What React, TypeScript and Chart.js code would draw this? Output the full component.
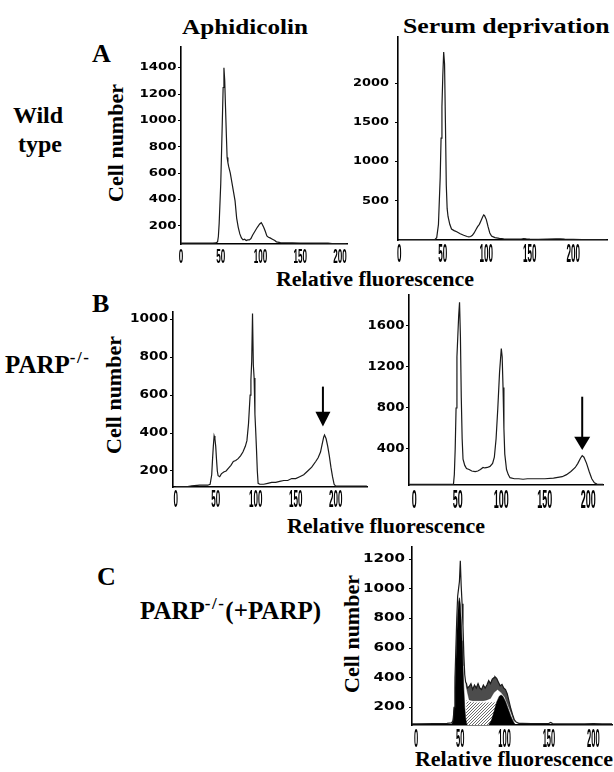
import React, { useEffect, useRef } from "react";
import { Chart, registerables } from "chart.js";
Chart.register(...registerables);

// ---------- Data ----------
const xTicks = [0, 50, 100, 150, 200];

// A: wild type, aphidicolin
const aAphX = [0, 20, 40, 44, 46, 47, 48, 50, 52, 53, 54, 55, 56, 57, 58, 59, 60, 62, 64, 66, 68, 70, 72, 74, 76, 78, 80, 82, 84, 86, 88, 90, 93, 96, 99, 101, 102, 104, 106, 108, 110, 112, 115, 118, 120, 125, 130, 140, 150, 160, 170, 180, 185, 190, 208];
const aAphY = [70, 70, 70, 72, 80, 120, 220, 520, 1000, 1250, 1400, 1300, 1100, 900, 720, 680, 650, 600, 530, 460, 390, 260, 190, 140, 110, 95, 100, 90, 95, 95, 105, 130, 160, 190, 215, 225, 215, 190, 160, 125, 115, 110, 100, 90, 80, 74, 73, 72, 71, 71, 70, 70, 70, 66, 66];
const aAphYTicks = [200, 400, 600, 800, 1000, 1200, 1400];

// A: wild type, serum deprivation
const aSerX = [0, 20, 38, 41, 43, 45, 47, 48, 49, 50, 51, 52, 53, 54, 55, 56, 58, 60, 63, 66, 70, 74, 78, 80, 82, 84, 86, 88, 90, 92, 94, 96, 97, 98, 100, 102, 104, 106, 108, 110, 115, 120, 130, 140, 143, 146, 150, 160, 170, 180, 185, 190, 200, 210, 225, 238];
const aSerY = [5, 5, 5, 8, 30, 200, 800, 1300, 1700, 2100, 2400, 2250, 1500, 700, 400, 300, 200, 140, 120, 105, 80, 60, 45, 40, 45, 60, 90, 130, 170, 200, 250, 300, 320, 310, 260, 170, 90, 50, 40, 30, 20, 15, 12, 12, 18, 14, 10, 8, 12, 14, 16, 12, 8, 6, 6, 6];
const aSerYTicks = [500, 1000, 1500, 2000];

// B: PARP-/-, aphidicolin
const bAphX = [0, 15, 20, 30, 40, 43, 45, 46, 47, 48, 49, 50, 51, 52, 53, 55, 57, 60, 63, 66, 69, 72, 75, 78, 81, 84, 87, 89, 91, 93, 94, 95, 96, 97, 98, 99, 100, 101, 102, 103, 105, 110, 115, 120, 125, 130, 135, 140, 145, 150, 155, 160, 165, 170, 175, 178, 181, 183, 185, 186, 188, 190, 192, 194, 196, 198, 200, 210, 220, 239];
const bAphY = [118, 118, 122, 125, 125, 130, 180, 260, 330, 385, 370, 330, 260, 200, 175, 170, 185, 195, 200, 215, 230, 250, 255, 265, 280, 300, 330, 360, 450, 600, 680, 780, 1030, 760, 690, 500, 410, 310, 200, 135, 130, 130, 135, 140, 140, 145, 150, 150, 160, 160, 170, 180, 200, 220, 250, 270, 300, 340, 380, 390, 370, 330, 280, 220, 170, 130, 120, 120, 120, 120];
const bAphYTicks = [200, 400, 600, 800, 1000];
const bAphArrow = { x: 184, yTop: 645, yHead: 513, yTip: 435 };

// B: PARP-/-, serum deprivation
const bSerX = [-6, 0, 20, 40, 45, 46, 47, 48, 49, 50, 51, 52, 53, 54, 55, 56, 58, 60, 63, 66, 70, 73, 76, 79, 81, 84, 87, 90, 92, 94, 96, 98, 100, 101, 102, 103, 104, 106, 108, 110, 115, 120, 125, 130, 140, 150, 160, 170, 175, 180, 185, 188, 191, 193, 195, 198, 201, 204, 207, 210, 217];
const bSerY = [55, 55, 55, 55, 55, 150, 400, 800, 1300, 1500, 1700, 1830, 1500, 900, 500, 300, 240, 210, 200, 185, 180, 185, 200, 220, 215, 220, 230, 260, 320, 500, 800, 1150, 1380, 1300, 1000, 600, 350, 200, 150, 120, 110, 110, 105, 110, 110, 110, 115, 130, 150, 180, 220, 260, 310, 335, 320, 260, 180, 110, 70, 58, 55];
const bSerYTicks = [400, 800, 1200, 1600];
const bSerArrow = { x: 193, yTop: 910, yHead: 520, yTip: 390 };

// C: PARP-/- (+PARP), serum deprivation
const cTotalX = [-5, 0, 20, 35, 40, 42, 43, 44, 45, 46, 47, 48, 49, 50, 51, 52, 53, 54, 55, 56, 57, 58, 60, 62, 64, 66, 68, 70, 72, 74, 76, 78, 80, 82, 84, 86, 88, 89, 91, 93, 95, 97, 99, 101, 103, 105, 107, 109, 111, 113, 116, 120, 130, 150, 152, 154, 170, 190, 200, 210, 222];
const cTotalY = [88, 88, 90, 92, 95, 110, 200, 400, 600, 800, 950, 1000, 1050, 1190, 1020, 900, 750, 550, 420, 370, 360, 330, 340, 360, 320, 350, 330, 360, 330, 320, 350, 330, 350, 380, 360, 390, 400, 407, 395, 370, 345, 355, 330, 320, 290, 240, 190, 150, 115, 100, 92, 92, 90, 92, 98, 90, 88, 88, 90, 88, 88];
const cBandX = [56, 58, 60, 64, 68, 72, 76, 80, 84, 88, 92, 96, 100, 104, 108, 111];
const cBandY = [360, 300, 250, 245, 245, 245, 245, 250, 260, 300, 320, 300, 270, 210, 150, 100];
const cG1X = [40, 41, 42, 43, 44, 45, 46, 47, 48, 49, 50, 51, 52, 53, 54, 55, 56, 57, 58];
const cG1Y = [80, 95, 130, 200, 330, 500, 680, 820, 910, 940, 900, 800, 650, 480, 320, 200, 130, 90, 80];
const cG2X = [82, 85, 88, 91, 94, 96, 98, 101, 104, 107, 110, 112, 113];
const cG2Y = [80, 110, 170, 235, 275, 283, 275, 240, 190, 140, 100, 84, 80];
const cSX = [56, 57, 59, 63, 67, 71, 75, 79, 83, 87, 90, 93, 96];
const cSY = [80, 250, 240, 235, 232, 232, 232, 232, 232, 235, 230, 180, 80];
const cYTicks = [200, 400, 600, 800, 1000, 1200];

// ---------- Chart panels ----------
type Kind = "line" | "band" | "black" | "stipple";
type Series = { x: number[]; y: number[]; kind: Kind };
type Cfg = {
  area: { l: number; t: number; r: number; b: number };
  xMin: number; xMax: number; yMin: number; yMax: number;
  yTicks: number[];
  series: Series[];
  arrow?: { x: number; yTop: number; yHead: number; yTip: number };
  arrowHalf?: number;
  yLab: { h: number; w4: number; gap: number };
  xLab: { h: number; gap: number; dw: number };
};

const LP = 60, TP = 6, RP = 6, BP = 28;

function makeStipple(ctx: CanvasRenderingContext2D) {
  const c = document.createElement("canvas");
  c.width = 3; c.height = 3;
  const g = c.getContext("2d")!;
  g.fillStyle = "#ffffff"; g.fillRect(0, 0, 3, 3);
  g.fillStyle = "#6a6a6a";
  g.fillRect(0, 0, 1, 1); g.fillRect(2, 1, 1, 1); g.fillRect(1, 2, 1, 1);
  return ctx.createPattern(c, "repeat");
}

const r1 = (v: number) => Math.round(v * 10) / 10;

function textPlugin(cfg: Cfg) {
  return {
    id: "panelText",
    afterDraw(chart: any) {
      const { ctx, chartArea: a, scales } = chart;
      const xs = scales.x, ys = scales.y;
      ctx.save();
      ctx.fillStyle = "#000";
      ctx.font = `bold ${r1(cfg.yLab.h / 0.729)}px "DejaVu Sans", sans-serif`;
      const sy = cfg.yLab.w4 / ctx.measureText("0000").width;
      ctx.textAlign = "right";
      ctx.textBaseline = "middle";
      for (const v of cfg.yTicks) {
        const py = ys.getPixelForValue(v);
        ctx.save();
        ctx.translate(a.left - cfg.yLab.gap, py);
        ctx.scale(sy, 1);
        ctx.fillText(String(v), 0, 0);
        ctx.restore();
      }
      ctx.font = `bold ${r1(cfg.xLab.h / 0.716)}px "Liberation Sans", sans-serif`;
      const sx = (cfg.xLab.dw * 2) / ctx.measureText("00").width;
      ctx.textAlign = "center";
      ctx.textBaseline = "alphabetic";
      for (const v of xTicks) {
        const px = xs.getPixelForValue(v);
        ctx.save();
        ctx.translate(px, a.bottom + cfg.xLab.gap + cfg.xLab.h);
        ctx.scale(sx, 1);
        ctx.fillText(String(v), 0, 0);
        ctx.restore();
      }
      if (cfg.arrow) {
        const ar = cfg.arrow;
        const hw = cfg.arrowHalf || 8;
        const px = xs.getPixelForValue(ar.x);
        const yT = ys.getPixelForValue(ar.yTop);
        const yH = ys.getPixelForValue(ar.yHead);
        const yP = ys.getPixelForValue(ar.yTip);
        ctx.strokeStyle = "#000";
        ctx.lineWidth = 2;
        ctx.beginPath();
        ctx.moveTo(px, yT);
        ctx.lineTo(px, yH + 1);
        ctx.stroke();
        ctx.beginPath();
        ctx.moveTo(px - hw, yH);
        ctx.lineTo(px + hw, yH);
        ctx.lineTo(px, yP);
        ctx.closePath();
        ctx.fill();
      }
      ctx.restore();
    },
  };
}

function Panel({ cfg }: { cfg: Cfg }) {
  const ref = useRef<HTMLCanvasElement>(null);
  const W = cfg.area.r - cfg.area.l + LP + RP;
  const H = cfg.area.b - cfg.area.t + TP + BP;
  useEffect(() => {
    const canvas = ref.current!;
    const ctx = canvas.getContext("2d")!;
    const pattern = makeStipple(ctx);
    const datasets = cfg.series.map((s) => ({
      data: s.x.map((x, i) => ({ x, y: s.y[i] })),
      borderColor:
        s.kind === "line" ? "#1a1a1a" : s.kind === "black" ? "#000" : s.kind === "band" ? "rgba(30,30,30,0.6)" : "rgba(0,0,0,0)",
      borderWidth: s.kind === "line" ? 1.2 : 0.5,
      backgroundColor:
        s.kind === "black" ? "#000" : s.kind === "stipple" ? pattern : s.kind === "band" ? "rgba(25,25,25,0.78)" : "rgba(0,0,0,0)",
      fill: s.kind === "line" ? false : s.kind === "band" ? "-1" : "start",
      pointRadius: 0,
      tension: 0,
    }));
    const chart = new Chart(canvas, {
      type: "line",
      data: { datasets } as any,
      options: {
        animation: false,
        responsive: false,
        events: [],
        layout: { padding: { left: 0, top: TP, right: RP, bottom: 0 } },
        plugins: { legend: { display: false }, tooltip: { enabled: false }, title: { display: false } },
        scales: {
          x: {
            type: "linear",
            min: cfg.xMin,
            max: cfg.xMax,
            afterBuildTicks: (s: any) => { s.ticks = xTicks.map((v) => ({ value: v })); },
            afterFit: (s: any) => { s.height = BP; },
            ticks: { display: false },
            grid: { display: true, drawOnChartArea: false, drawTicks: false },
            border: { display: true, color: "#000", width: 1.6 },
          },
          y: {
            type: "linear",
            min: cfg.yMin,
            max: cfg.yMax,
            afterBuildTicks: (s: any) => { s.ticks = cfg.yTicks.map((v) => ({ value: v })); },
            afterFit: (s: any) => { s.width = LP; },
            ticks: { display: false },
            grid: { display: true, drawOnChartArea: false, drawTicks: true, tickLength: 3, color: "#000", lineWidth: 1 },
            border: { display: true, color: "#000", width: 1.6 },
          },
        },
      } as any,
      plugins: [textPlugin(cfg) as any],
    });
    return () => chart.destroy();
  }, []);
  return (
    <canvas
      ref={ref}
      width={W}
      height={H}
      style={{ position: "absolute", left: cfg.area.l - LP, top: cfg.area.t - TP, width: W, height: H }}
    />
  );
}

const panels: Cfg[] = [
  {
    area: { l: 181, t: 47, r: 347, b: 244 },
    xMin: 0, xMax: 208.8, yMin: 63.5, yMax: 1557,
    yTicks: aAphYTicks,
    series: [{ x: aAphX, y: aAphY, kind: "line" }],
    yLab: { h: 7.5, w4: 37, gap: 4.5 },
    xLab: { h: 15, gap: 4, dw: 4.5 },
  },
  {
    area: { l: 398, t: 37, r: 607, b: 240 },
    xMin: -1.5, xMax: 238.7, yMin: 0, yMax: 2591,
    yTicks: aSerYTicks,
    series: [{ x: aSerX, y: aSerY, kind: "line" }],
    yLab: { h: 7.5, w4: 36, gap: 9 },
    xLab: { h: 18, gap: 3.5, dw: 4.5 },
  },
  {
    area: { l: 173, t: 312, r: 367, b: 487 },
    xMin: -3.4, xMax: 239.1, yMin: 115.6, yMax: 1038.5,
    yTicks: bAphYTicks,
    series: [{ x: bAphX, y: bAphY, kind: "line" }],
    arrow: bAphArrow, arrowHalf: 7.5,
    yLab: { h: 8.3, w4: 38, gap: 5 },
    xLab: { h: 16.5, gap: 3, dw: 4.5 },
  },
  {
    area: { l: 409, t: 295, r: 603, b: 485 },
    xMin: -6.1, xMax: 216.9, yMin: 48.8, yMax: 1902,
    yTicks: bSerYTicks,
    series: [{ x: bSerX, y: bSerY, kind: "line" }],
    arrow: bSerArrow, arrowHalf: 8,
    yLab: { h: 9, w4: 37, gap: 4.5 },
    xLab: { h: 18, gap: 5, dw: 5 },
  },
  {
    area: { l: 412, t: 547, r: 612, b: 725 },
    xMin: -4.5, xMax: 221.1, yMin: 80.4, yMax: 1283,
    yTicks: cYTicks,
    series: [
      { x: cTotalX, y: cTotalY, kind: "line" },
      { x: cBandX, y: cBandY, kind: "band" },
      { x: cG1X, y: cG1Y, kind: "black" },
      { x: cG2X, y: cG2Y, kind: "black" },
      { x: cSX, y: cSY, kind: "stipple" },
    ],
    yLab: { h: 8.3, w4: 42, gap: 7 },
    xLab: { h: 19, gap: 3, dw: 4.2 },
  },
];

// ---------- Text ----------
const SERIF = '"Liberation Serif", "Times New Roman", Times, serif';

function Txt({ x, base, size, children, center, sx }: { x: number; base: number; size: number; children: React.ReactNode; center?: boolean; sx?: number }) {
  const tf = [center ? "translateX(-50%)" : "", sx ? `scaleX(${sx})` : ""].join(" ").trim();
  return (
    <div
      style={{
        position: "absolute",
        left: x,
        top: base - 0.8375 * size,
        fontFamily: SERIF,
        fontWeight: "bold",
        fontSize: size,
        lineHeight: `${size}px`,
        whiteSpace: "nowrap",
        color: "#000",
        transform: tf || undefined,
        transformOrigin: "left top",
      }}
    >
      {children}
    </div>
  );
}

function RotTxt({ cx, cy, size, children }: { cx: number; cy: number; size: number; children: React.ReactNode }) {
  return (
    <div
      style={{
        position: "absolute",
        left: cx,
        top: cy,
        fontFamily: SERIF,
        fontWeight: "bold",
        fontSize: size,
        lineHeight: `${size}px`,
        whiteSpace: "nowrap",
        color: "#000",
        transform: "translate(-50%, -50%) rotate(-90deg)",
      }}
    >
      {children}
    </div>
  );
}

const Sup = ({ children }: { children: React.ReactNode }) => (
  <span style={{ fontSize: 17, position: "relative", top: -10, lineHeight: 0, letterSpacing: 1.5 }}>{children}</span>
);

export default function App() {
  return (
    <div style={{ position: "absolute", left: 0, top: 0, width: 614, height: 772, overflow: "hidden", background: "#fff" }}>
      <Txt x={182} base={34} size={22} sx={1.145}>Aphidicolin</Txt>
      <Txt x={403} base={33} size={22} sx={1.17}>Serum deprivation</Txt>

      <Txt x={92} base={63} size={26}>A</Txt>
      <Txt x={38} base={123} size={24} center>Wild</Txt>
      <Txt x={40} base={152} size={24} center>type</Txt>
      <RotTxt cx={116} cy={143} size={22}>Cell number</RotTxt>
      <Txt x={375} base={286} size={22} center>Relative fluorescence</Txt>

      <Txt x={92} base={313} size={26}>B</Txt>
      <Txt x={5} base={373} size={25}>PARP<Sup>-/-</Sup></Txt>
      <RotTxt cx={114} cy={395} size={22}>Cell number</RotTxt>
      <Txt x={386} base={533} size={22} center>Relative fluorescence</Txt>

      <Txt x={97} base={586} size={26}>C</Txt>
      <Txt x={140} base={619} size={25}>PARP<Sup>-/-</Sup>(+PARP)</Txt>
      <RotTxt cx={352} cy={634} size={22}>Cell number</RotTxt>
      <Txt x={514} base={766} size={22} center>Relative fluorescence</Txt>

      {panels.map((p, i) => (
        <Panel key={i} cfg={p} />
      ))}
    </div>
  );
}
